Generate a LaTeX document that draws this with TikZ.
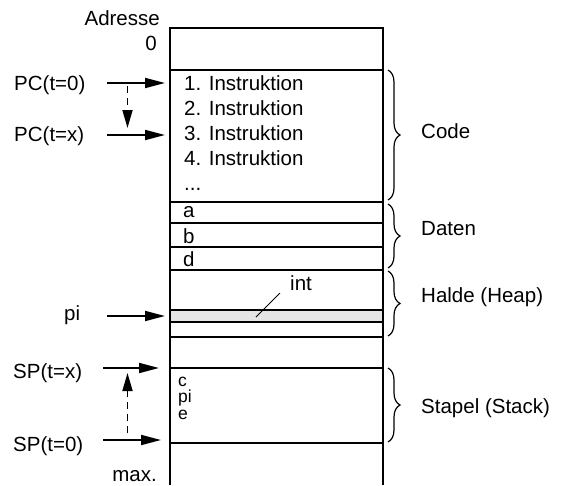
\documentclass[tikz,border=0pt]{standalone}
\usepackage{fontspec}
\setmainfont{Liberation Sans}
\usetikzlibrary{decorations.pathreplacing,arrows.meta}
\begin{document}
\begin{tikzpicture}[x=1pt,y=-1pt,
  font=\fontsize{20.5}{24}\selectfont,
  txt/.style={anchor=base west,inner sep=0pt},
  txtr/.style={anchor=base east,inner sep=0pt},
  mem/.style={line width=2pt},
  ptr/.style={line width=1.8pt,-{Triangle[length=20pt,width=10pt]}},
  move/.style={line width=1.8pt,dash pattern=on 7pt off 5pt,-{Triangle[length=18pt,width=10pt]}},
  brc/.style={line width=1.2pt,decorate,decoration={brace,amplitude=12pt,aspect=0.5}},
]
\useasboundingbox (0,0) rectangle (562,485);
% heap cell
\fill[black!10] (170,310) rectangle (383,322);
% memory column
\draw[mem] (170,485) -- (170,28) -- (383,28) -- (383,485);
\foreach \y in {70,202,222.5,246.5,269.5,310,322,336.5,367.5,442.5}
  \draw[mem] (170,\y) -- (383,\y);
% contents
\node[txt] (i1) at (184,90) {1. Instruktion};
\node[txt] (i2) at (184,115) {2. Instruktion};
\node[txt] (i3) at (184,140) {3. Instruktion};
\node[txt] (i4) at (184,165) {4. Instruktion};
\node[txt] (idots) at (184,190) {...};
\node[txt] (va) at (183,217) {a};
\node[txt] (vb) at (183,243) {b};
\node[txt] (vd) at (183,266.5) {d};
\node[txt] (int) at (290,290) {int};
\coordinate (intA) at (280,293);
\coordinate (intB) at (256,317);
\draw[line width=0.8pt] (intA) -- (intB);
\node[txt,align=left,font=\fontsize{17.5}{16.5}\selectfont] (stk) at (178,419) {c\\pi\\e};
% left labels
\node[txtr] (adr) at (160,25) {Adresse};
\node[txtr] (zero) at (157,50) {0};
\node[txtr] (max) at (157,481) {max.};
\node[txt] (pc0) at (14,90) {PC(t=0)};
\node[txt] (pcx) at (14,141) {PC(t=x)};
\node[txt] (pi) at (64,320) {pi};
\node[txt] (spx) at (13,378) {SP(t=x)};
\node[txt] (sp0) at (13,451) {SP(t=0)};
\coordinate (pc0a) at (107,83);  \coordinate (pc0b) at (165,83);
\coordinate (pcxa) at (107,135); \coordinate (pcxb) at (165,135);
\coordinate (pia)  at (107,316); \coordinate (pib)  at (165,316);
\coordinate (spxa) at (103,368); \coordinate (spxb) at (159,368);
\coordinate (sp0a) at (103,440); \coordinate (sp0b) at (161,440);
\draw[ptr] (pc0a) -- (pc0b);
\draw[ptr] (pcxa) -- (pcxb);
\draw[ptr] (pia) -- (pib);
\draw[ptr] (spxa) -- (spxb);
\draw[ptr] (sp0a) -- (sp0b);
\coordinate (pcm1) at (127.5,86); \coordinate (pcm2) at (127.5,128);
\coordinate (spm1) at (127.5,433); \coordinate (spm2) at (127.5,373);
\draw[move] (pcm1) -- (pcm2);
\draw[move] (spm1) -- (spm2);
% braces
\coordinate (cb1) at (388,70);  \coordinate (cb2) at (388,200);
\coordinate (db1) at (388,204); \coordinate (db2) at (388,268);
\coordinate (hb1) at (388,271); \coordinate (hb2) at (388,336);
\coordinate (sb1) at (388,368); \coordinate (sb2) at (388,442);
\draw[brc] (cb1) -- (cb2);
\draw[brc] (db1) -- (db2);
\draw[brc] (hb1) -- (hb2);
\draw[brc] (sb1) -- (sb2);
\node[txt] (code) at (421,138) {Code};
\node[txt] (daten) at (421,235) {Daten};
\node[txt] (halde) at (421,302.5) {Halde (Heap)};
\node[txt] (stapel) at (421,413) {Stapel (Stack)};
\end{tikzpicture}
\end{document}
